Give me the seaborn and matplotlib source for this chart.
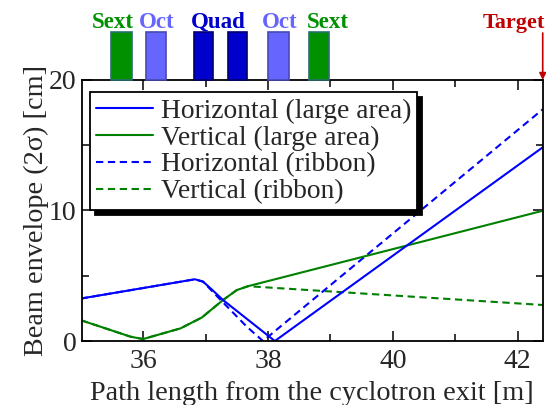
import matplotlib
matplotlib.use("Agg")
import matplotlib.pyplot as plt
import seaborn as sns
import numpy as np

# beam envelope (path length [m], 2-sigma envelope [cm])
x_h_large = [35.0, 36.83, 36.96, 37.10, 37.28, 38.11, 42.4]
y_h_large = [3.25, 4.73, 4.55, 3.95, 3.14, 0.0, 14.84]
x_v_large = [35.0, 35.8, 36.0, 36.6, 36.94, 37.28, 37.5, 37.68, 42.4]
y_v_large = [1.6, 0.33, 0.15, 0.97, 1.8, 3.14, 3.9, 4.2, 9.98]
x_h_ribbon = [35.0, 36.83, 36.96, 37.18, 37.66, 37.92, 42.4]
y_h_ribbon = [3.25, 4.73, 4.55, 3.45, 1.1, 0.0, 17.75]
x_v_ribbon = [35.0, 35.8, 36.0, 36.6, 36.94, 37.28, 37.5, 37.68, 42.4]
y_v_ribbon = [1.6, 0.33, 0.15, 0.97, 1.8, 3.14, 3.9, 4.2, 2.76]

# magnets along the beam line
mag_start = [35.48, 36.04, 36.82, 37.36, 38.00, 38.65]
mag_end = [35.82, 36.37, 37.12, 37.66, 38.34, 38.98]
mag_kind = ["Sext", "Oct", "Quad", "Quad", "Oct", "Sext"]
mag_labels = ["Sext", "Oct", "Quad", "Oct", "Sext"]
mag_label_x = [35.51, 36.22, 37.20, 38.19, 38.96]
target_x = 42.4

blue = "#0000ff"
green = "#008000"
kind_face = {"Sext": "#009000", "Oct": "#6666ff", "Quad": "#0000cc"}
kind_edge = {"Sext": "#2a7070", "Oct": "#4848b0", "Quad": "#000070"}

sns.set_theme(style="ticks")
plt.rcParams["font.family"] = ["Liberation Serif", "DejaVu Serif"]

fig, ax = plt.subplots(figsize=(5.46, 4.05), dpi=100)
fig.subplots_adjust(left=0.150, right=0.994, bottom=0.158, top=0.8025)

sns.lineplot(x=x_v_ribbon, y=y_v_ribbon, ax=ax, color=green, lw=1.5,
             linestyle=(0, (3.5, 2.2)), sort=False, estimator=None,
             label="Vertical (ribbon)")
sns.lineplot(x=x_h_ribbon, y=y_h_ribbon, ax=ax, color=blue, lw=1.5,
             linestyle=(0, (3.5, 2.2)), sort=False, estimator=None,
             label="Horizontal (ribbon)")
sns.lineplot(x=x_v_large, y=y_v_large, ax=ax, color=green, lw=1.5,
             sort=False, estimator=None, label="Vertical (large area)")
sns.lineplot(x=x_h_large, y=y_h_large, ax=ax, color=blue, lw=1.5,
             sort=False, estimator=None, label="Horizontal (large area)")

ax.set_xlim(35.02, 42.4)
ax.set_ylim(0, 20)
ax.set_xticks([36, 38, 40, 42])
ax.set_xticks([37, 39, 41], minor=True)
ax.set_yticks([0, 10, 20])
ax.set_yticks([5, 15], minor=True)
ax.tick_params(which="both", direction="in", top=True, right=True,
               labelsize=20, color="black", width=1.1)
ax.tick_params(axis="x", which="both", pad=6)
ax.tick_params(axis="y", which="both", pad=4)
ax.tick_params(which="major", length=7)
ax.tick_params(which="minor", length=5)
for sp in ax.spines.values():
    sp.set_color("black")
    sp.set_linewidth(1.3)
    sp.set_visible(True)

ax.set_xlabel("Path length from the cyclotron exit [m]", fontsize=20.3, labelpad=5)
ax.set_ylabel("Beam envelope (2σ) [cm]", fontsize=20.3, labelpad=0)

# magnet boxes above the frame
widths = np.array(mag_end) - np.array(mag_start)
ax.bar(mag_start, 3.68, width=widths, bottom=20, align="edge",
       color=[kind_face[k] for k in mag_kind],
       edgecolor=[kind_edge[k] for k in mag_kind], linewidth=1.2,
       clip_on=False, zorder=3)
label_color = {"Sext": "#009000", "Oct": "#6666ff", "Quad": "#0000cc"}
for lab, lx in zip(mag_labels, mag_label_x):
    ax.text(lx, 24.0, lab, ha="center", va="baseline", fontsize=16.5,
            fontweight="bold", color=label_color[lab], clip_on=False)

ax.text(target_x + 0.04, 24.0, "Target", ha="right", va="baseline",
        fontsize=16, fontweight="bold", color="#c00000", clip_on=False)
ax.annotate("", xy=(target_x, 20), xytext=(target_x, 23.6),
            arrowprops=dict(arrowstyle="-|>", color="#c00000", lw=1.2,
                            mutation_scale=10, shrinkA=0, shrinkB=0),
            annotation_clip=False)

handles, labels = ax.get_legend_handles_labels()
order = [3, 2, 1, 0]
leg = ax.legend([handles[i] for i in order], [labels[i] for i in order],
                loc="upper left", bbox_to_anchor=(-0.01, 1.0),
                fontsize=19.8, frameon=True, fancybox=False,
                shadow={"ox": 3.5, "oy": -3.5, "facecolor": "black",
                        "edgecolor": "black", "alpha": 1},
                handlelength=2.07, handletextpad=0.3, labelspacing=0.06,
                borderpad=0.22, borderaxespad=0.45)
leg.get_frame().set_edgecolor("black")
leg.get_frame().set_linewidth(1.3)
leg.get_frame().set_alpha(1)

fig.savefig("out.png", dpi=100)
